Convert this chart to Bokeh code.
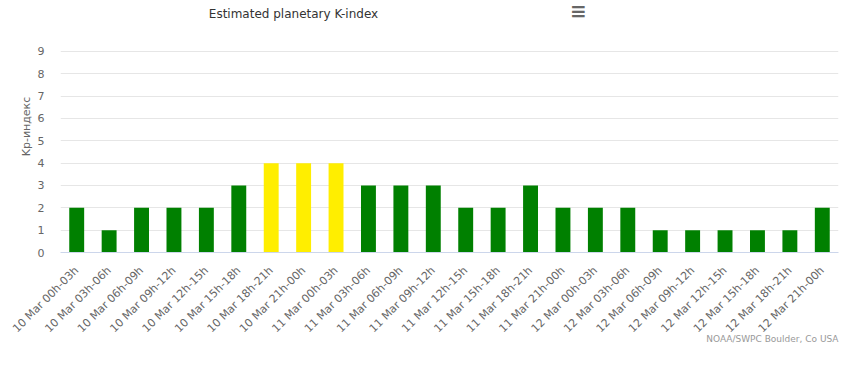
from bokeh.plotting import figure
from bokeh.models import ColumnDataSource, FactorRange, Label, FixedTicker, Range1d, Title
from bokeh.embed import file_html
from bokeh.resources import INLINE
from math import pi

categories = [
    "10 Mar 00h-03h", "10 Mar 03h-06h", "10 Mar 06h-09h", "10 Mar 09h-12h",
    "10 Mar 12h-15h", "10 Mar 15h-18h", "10 Mar 18h-21h", "10 Mar 21h-00h",
    "11 Mar 00h-03h", "11 Mar 03h-06h", "11 Mar 06h-09h", "11 Mar 09h-12h",
    "11 Mar 12h-15h", "11 Mar 15h-18h", "11 Mar 18h-21h", "11 Mar 21h-00h",
    "12 Mar 00h-03h", "12 Mar 03h-06h", "12 Mar 06h-09h", "12 Mar 09h-12h",
    "12 Mar 12h-15h", "12 Mar 15h-18h", "12 Mar 18h-21h", "12 Mar 21h-00h",
]
kp_values = [2, 1, 2, 2, 2, 3, 4, 4, 4, 3, 3, 3, 2, 2, 3, 2, 2, 2, 1, 1, 1, 1, 1, 2]
y_ticks = [0, 1, 2, 3, 4, 5, 6, 7, 8, 9]

GREEN = "#008000"
YELLOW = "#ffee00"
colors = [YELLOW if v >= 4 else GREEN for v in kp_values]

W, H = 861, 372
# the frame reaches the top of the canvas so that the title and menu icon
# (drawn as labels, which are clipped to the frame) can be shown
p = figure(
    width=W, height=H, output_backend="svg", toolbar_location=None,
    x_range=FactorRange(*categories, range_padding=0),
    y_range=Range1d(0, 11.28),
    min_border_left=60, min_border_right=23, min_border_top=0, min_border_bottom=120,
)
p.outline_line_color = None
p.background_fill_color = "white"
p.border_fill_color = "white"

src = ColumnDataSource(dict(cat=categories, kp=kp_values, color=colors))
p.vbar(x="cat", top="kp", width=0.46, source=src, fill_color="color", line_color=None)

font = "DejaVu Sans"
p.xgrid.grid_line_color = None
p.ygrid.grid_line_color = "#e6e6e6"
p.yaxis.ticker = FixedTicker(ticks=y_ticks)
p.yaxis.axis_line_color = None
p.yaxis.major_tick_line_color = None
p.yaxis.minor_tick_line_color = None
p.yaxis.major_label_text_color = "#666666"
p.yaxis.major_label_text_font = font
p.yaxis.major_label_text_font_size = "11px"
p.yaxis.major_label_standoff = 10

p.xaxis.axis_line_color = "#ccd6eb"
p.xaxis.major_tick_line_color = None
p.xaxis.minor_tick_line_color = None
p.xaxis.major_label_orientation = pi / 4
p.xaxis.major_label_text_color = "#666666"
p.xaxis.major_label_text_font = font
p.xaxis.major_label_text_font_size = "11px"
p.xaxis.major_label_standoff = 10

ylabel = Title(text="Kp-индекс", align="center", offset=-21, standoff=4,
               text_font=font, text_font_size="11px", text_font_style="normal",
               text_color="#666666")
p.add_layout(ylabel, "left")

credit = Title(text="NOAA/SWPC Boulder, Co USA", align="right", standoff=-18,
               vertical_align="top",
               text_font=font, text_font_size="9px", text_font_style="normal",
               text_color="#999999")
p.add_layout(credit, "below")

title = Label(x=233, y=239, x_units="screen", y_units="screen",
              text="Estimated planetary K-index", text_align="center",
              text_baseline="middle", text_font=font, text_font_size="12px",
              text_color="#333333")
p.add_layout(title)

menu = Label(x=518, y=242, x_units="screen", y_units="screen",
             text="≡", text_align="center", text_baseline="middle",
             text_font=font, text_font_size="20px", text_font_style="bold",
             text_color="#666666")
p.add_layout(menu)

open("out.html", "w").write(file_html(p, INLINE))
